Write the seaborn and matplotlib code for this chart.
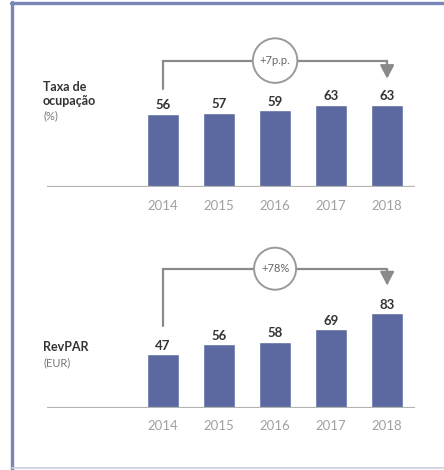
#!/usr/bin/env python3
"""
Two stacked bar panels: occupancy rate and RevPAR, 2014-2018.
"""
import matplotlib
matplotlib.use('Agg')
import matplotlib.pyplot as plt
from matplotlib.lines import Line2D
import pandas as pd
import seaborn as sns

YEARS = ['2014', '2015', '2016', '2017', '2018']
OCCUPANCY = [56, 57, 59, 63, 63]
REVPAR = [47, 56, 58, 69, 83]
OCC_CHANGE = '+7p.p.'
REVPAR_CHANGE = '+78%'

BAR_COLOR = '#5b69a0'
DARK = '#333333'
GREY = '#a0a0a0'
BRACKET = '#8a8a8a'

sns.set_style('white')
plt.rcParams['font.family'] = ['Lato', 'DejaVu Sans']

fig = plt.figure(figsize=(4.44, 4.70), dpi=100)


def panel(rect, values, ylim, change, bracket_y, left_y, tip_y):
    ax = fig.add_axes(rect)
    data = pd.DataFrame({'year': YEARS, 'value': values})
    sns.barplot(data=data, x='year', y='value', color=BAR_COLOR,
                saturation=1, width=0.58, ax=ax)
    ax.set_xlim(-2.07, 4.5)
    ax.set_ylim(*ylim)
    for s in ax.spines.values():
        s.set_visible(False)
    ax.axhline(0, color='#b4b4b4', lw=1.6, zorder=3)
    ax.set_xlabel('')
    ax.set_ylabel('')
    ax.set_yticks([])
    ax.tick_params(axis='x', length=0, pad=9, labelsize=9.5, labelcolor=GREY)
    # value labels
    for i, v in enumerate(values):
        ax.text(i, v + 2, str(v), ha='center', va='bottom', fontsize=9.5,
                fontweight='bold', color=DARK)
    # bracket from first to last bar
    ax.plot([0, 0, 4, 4], [left_y, bracket_y, bracket_y, tip_y + 6],
            color=BRACKET, lw=1.6, solid_joinstyle='miter', zorder=2)
    ax.annotate('', xy=(4, tip_y), xytext=(4, tip_y + 8),
                arrowprops=dict(arrowstyle='-|>,head_width=0.42,head_length=0.8',
                                color=BRACKET, lw=1.6))
    ax.text(2, bracket_y, change, ha='center', va='center', fontsize=8,
            color='#666666', zorder=5,
            bbox=dict(boxstyle='circle,pad=0.62', fc='white', ec='#9a9a9a',
                      lw=1.4))
    return ax


panel([0.106, 0.602, 0.829, 0.319], OCCUPANCY, (0, 115), OCC_CHANGE,
      97, 75, 81)
panel([0.106, 0.132, 0.829, 0.340], REVPAR, (0, 140), REVPAR_CHANGE,
      122, 72, 105)

# left labels
fig.text(43 / 444, 1 - 94 / 470, 'Taxa de\nocupação', ha='left', va='center',
         fontsize=9, fontweight='bold', color=DARK, linespacing=1.15)
fig.text(43 / 444, 1 - 116 / 470, '(%)', ha='left', va='center',
         fontsize=8, color='#777777')
fig.text(43 / 444, 1 - 347 / 470, 'RevPAR', ha='left', va='center',
         fontsize=9, fontweight='bold', color=DARK)
fig.text(43 / 444, 1 - 363 / 470, '(EUR)', ha='left', va='center',
         fontsize=8, color='#777777')

# frame
fig.add_artist(Line2D([12 / 444, 12 / 444], [0, 1 - 2 / 470],
                      color='#7a85b8', lw=2.4, transform=fig.transFigure))
fig.add_artist(Line2D([11 / 444, 1], [1 - 3 / 470, 1 - 3 / 470],
                      color='#7a85b8', lw=2.4, transform=fig.transFigure))
fig.add_artist(Line2D([12 / 444, 1], [2 / 470, 2 / 470],
                      color='#cdd0e3', lw=1.2, transform=fig.transFigure))

fig.savefig('out.png', dpi=100)
